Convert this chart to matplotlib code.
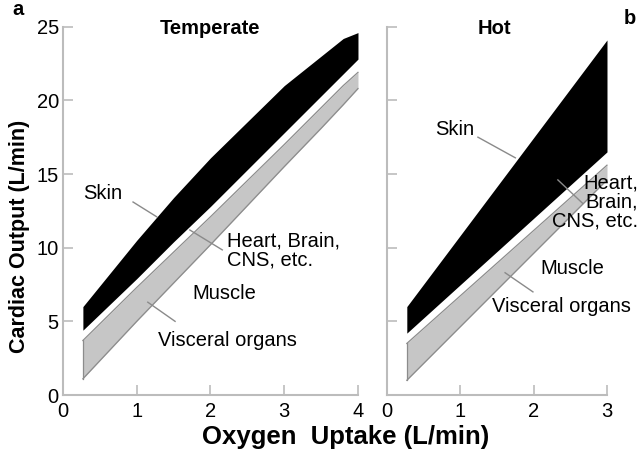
import matplotlib.pyplot as plt

plt.rcParams['font.family'] = ['Liberation Sans', 'DejaVu Sans']

# Temperate panel: band boundaries (L/min) at each oxygen uptake value
temp_x = [0.27, 1.0, 1.5, 2.0, 3.0, 3.5, 3.8, 4.0]
temp_gray_bottom = [1.1, 5.0, 7.6, 10.2, 15.5, 18.1, 19.7, 20.8]
temp_gray_top = [3.7, 7.3, 9.7, 12.1, 17.0, 19.5, 21.0, 21.9]
temp_black_bottom = [4.4, 7.9, 10.4, 12.8, 17.8, 20.3, 21.8, 22.8]
temp_black_top = [6.0, 10.5, 13.4, 16.1, 21.0, 23.0, 24.2, 24.6]

# Hot panel
hot_x = [0.27, 3.0]
hot_gray_bottom = [1.0, 14.6]
hot_gray_top = [3.5, 15.6]
hot_black_bottom = [4.2, 16.5]
hot_black_top = [6.0, 24.1]

y_ticks = [0, 5, 10, 15, 20, 25]
temp_ticks = [0, 1, 2, 3, 4]
hot_ticks = [0, 1, 2, 3]

fig = plt.figure(figsize=(6.38, 4.5), dpi=100)
ax1 = fig.add_axes([0.0987, 0.1222, 0.4624 * 4.03 / 4, 0.8185])
ax2 = fig.add_axes([0.6066, 0.1222, 0.3448 * 3.03 / 3, 0.8185])

gray = '#c6c6c6'
edge = '#8c8c8c'
spine_col = '#bcbcbc'
fs = 14.5


def draw_bands(ax, x, gb, gt, bb, bt):
    ax.fill_between(x, gb, gt, color=gray, lw=0)
    ax.plot(x, gb, color=edge, lw=0.9)
    ax.plot(x, gt, color=edge, lw=0.9)
    ax.fill_between(x, bb, bt, color='black', lw=0)
    # left edge of the bands
    ax.plot([x[0], x[0]], [gb[0], gt[0]], color=edge, lw=0.9)


def style_axes(ax, xticks, xmax):
    ax.set_xlim(0, xmax)
    ax.set_ylim(0, 25)
    ax.set_xticks(xticks)
    ax.set_yticks(y_ticks)
    for s in ['top', 'right']:
        ax.spines[s].set_visible(False)
    for s in ['left', 'bottom']:
        ax.spines[s].set_color(spine_col)
        ax.spines[s].set_linewidth(1.5)
    ax.spines['bottom'].set_bounds(0, xticks[-1])
    ax.tick_params(direction='in', length=7, width=1.2, color=spine_col,
                   labelsize=fs)
    ax.tick_params(axis='x', pad=5)
    ax.tick_params(axis='y', pad=3)


draw_bands(ax1, temp_x, temp_gray_bottom, temp_gray_top,
           temp_black_bottom, temp_black_top)
draw_bands(ax2, hot_x, hot_gray_bottom, hot_gray_top,
           hot_black_bottom, hot_black_top)

style_axes(ax1, temp_ticks, 4.03)
style_axes(ax2, hot_ticks, 3.03)
ax2.set_yticklabels([])

# panel titles
ax1.text(2.0, 24.9, 'Temperate', ha='center', va='center',
         fontsize=fs, fontweight='bold')
ax2.text(1.47, 24.9, 'Hot', ha='center', va='center',
         fontsize=fs, fontweight='bold')

# labels with pointer lines - temperate
lc = '#8a8a8a'
ax1.text(0.27, 13.7, 'Skin', fontsize=fs, va='center')
ax1.plot([0.95, 1.27], [13.1, 12.1], color=lc, lw=1)
ax1.text(2.22, 9.8, 'Heart, Brain,\nCNS, etc.', fontsize=fs, va='center',
         linespacing=1.0)
ax1.plot([1.72, 2.16], [11.2, 9.85], color=lc, lw=1)
ax1.text(1.75, 6.9, 'Muscle', fontsize=fs, va='center')
ax1.text(1.29, 3.7, 'Visceral organs', fontsize=fs, va='center')
ax1.plot([1.15, 1.52], [6.3, 5.0], color=lc, lw=1)

# labels with pointer lines - hot
ax2.text(3.42, 13.1, 'Heart,\nBrain,\nCNS, etc.', fontsize=fs, va='center',
         ha='right', linespacing=1.0, clip_on=False)
ax2.plot([2.33, 2.67], [14.6, 13.0], color=lc, lw=1)
ax2.text(0.65, 18.0, 'Skin', fontsize=fs, va='center')
ax2.plot([1.24, 1.75], [17.5, 16.1], color=lc, lw=1)
ax2.text(2.09, 8.6, 'Muscle', fontsize=fs, va='center')
ax2.text(1.43, 6.0, 'Visceral organs', fontsize=fs, va='center',
         clip_on=False)
ax2.plot([1.61, 1.99], [8.3, 7.0], color=lc, lw=1)

fig.text(0.019, 0.978, 'a', fontsize=fs, fontweight='bold', va='center')
fig.text(0.977, 0.96, 'b', fontsize=fs, fontweight='bold', va='center')

fig.text(0.030, 0.475, 'Cardiac Output (L/min)', rotation=90,
         ha='center', va='center', fontsize=15.5, fontweight='bold')
fig.text(0.541, 0.028, 'Oxygen  Uptake (L/min)', ha='center', va='center',
         fontsize=18.5, fontweight='bold')

fig.savefig('out.png', dpi=100)
